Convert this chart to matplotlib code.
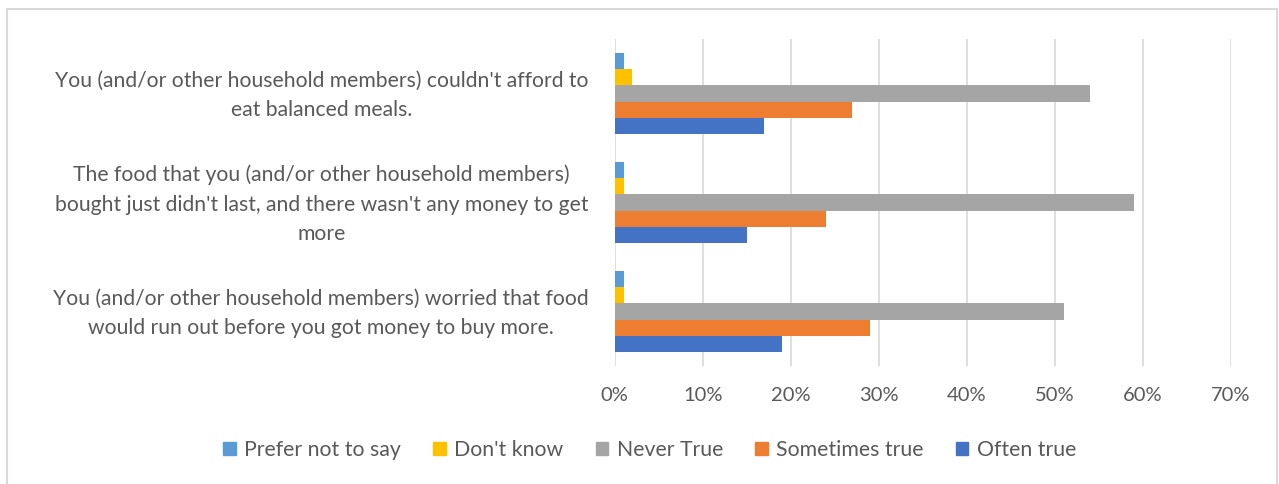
import numpy as np
import matplotlib
matplotlib.use("Agg")
import matplotlib.pyplot as plt
import matplotlib.transforms as mtransforms
from matplotlib.patches import Patch, Rectangle
from matplotlib.ticker import FuncFormatter

# questions, bottom to top as they appear on the axis
questions = [
    "You (and/or other household members) worried that food\nwould run out before you got money to buy more.",
    "The food that you (and/or other household members)\nbought just didn't last, and there wasn't any money to get\nmore",
    "You (and/or other household members) couldn't afford to\neat balanced meals.",
]

# percentages per response, same order as questions
often_true = [19, 15, 17]
sometimes_true = [29, 24, 27]
never_true = [51, 59, 54]
dont_know = [1, 1, 2]
prefer_not = [1, 1, 1]

series = [
    ("Often true", often_true, "#4472C4"),
    ("Sometimes true", sometimes_true, "#ED7D31"),
    ("Never True", never_true, "#A5A5A5"),
    ("Don't know", dont_know, "#FFC000"),
    ("Prefer not to say", prefer_not, "#5B9BD5"),
]
legend_order = ["Prefer not to say", "Don't know", "Never True", "Sometimes true", "Often true"]

plt.rcParams["font.family"] = ["Lato", "DejaVu Sans"]
TXT = "#595959"

fig = plt.figure(figsize=(12.79, 4.84), dpi=100)
ax = fig.add_axes([614.8 / 1279, 1 - 366 / 484, 616 / 1279, 327 / 484])

y = np.arange(len(questions))
h = 0.147
for i, (name, vals, col) in enumerate(series):
    ax.barh(y + (i - 2) * h, vals, height=h, color=col, label=name, zorder=3)

ax.set_xlim(0, 70)
ax.set_ylim(-0.5, len(questions) - 0.5)
ax.set_xticks(np.arange(0, 71, 10))
ax.xaxis.set_major_formatter(FuncFormatter(lambda v, p: f"{v:.0f}%"))
ax.set_yticks(y)
ax.set_yticklabels(questions, multialignment="center", fontsize=15.2, color=TXT,
                   linespacing=1.6)
ax.tick_params(axis="y", length=0, pad=19)
ax.tick_params(axis="x", length=0, pad=15, labelsize=14.5, labelcolor=TXT)
# nudge the wrapped question labels up a little
nudge = mtransforms.ScaledTranslation(0, 5 / 100, fig.dpi_scale_trans)
for lbl in ax.get_yticklabels():
    lbl.set_transform(lbl.get_transform() + nudge)
ax.grid(axis="x", color="#D9D9D9", linewidth=1.2, zorder=0)
for s in ax.spines.values():
    s.set_visible(False)

handles = {n: Patch(color=c, label=n) for n, _, c in series}
fig.legend(handles=[handles[n] for n in legend_order], loc="center",
           bbox_to_anchor=(0.508, 1 - 450 / 484), ncol=5, frameon=False,
           fontsize=15.3, labelcolor=TXT, handlelength=0.6, handleheight=0.6,
           handletextpad=0.4, columnspacing=1.5)

# chart area border
fig.patches.append(Rectangle((7 / 1279, -0.05), 1270 / 1279, 1.05 - 9 / 484,
                             transform=fig.transFigure, fill=False,
                             edgecolor="#D9D9D9", linewidth=1.5))

fig.savefig("out.png", dpi=100)
